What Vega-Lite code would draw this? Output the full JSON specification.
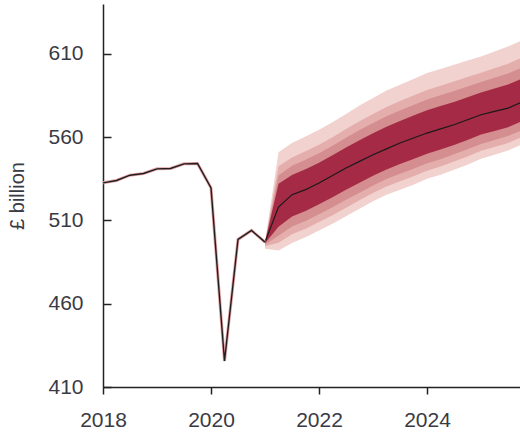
{
  "$schema": "https://vega.github.io/schema/vega-lite/v6.json",
  "width": 417,
  "height": 383,
  "autosize": "none",
  "padding": {"left": 103, "top": 4, "right": 0, "bottom": 45},
  "config": {
    "view": {"stroke": null},
    "font": "Liberation Sans",
    "axis": {
      "grid": false,
      "domainColor": "#222222",
      "domainWidth": 1.5,
      "tickColor": "#222222",
      "tickWidth": 1.5,
      "labelFont": "Liberation Sans",
      "labelFontSize": 21,
      "labelColor": "#3a3a44",
      "labelFlush": false,
      "titleFont": "Liberation Sans",
      "titleFontSize": 20,
      "titleFontWeight": "normal",
      "titleColor": "#3a3a44"
    }
  },
  "datasets": {
    "hist": [
      {"t": 2018.0, "v": 532.6},
      {"t": 2018.25, "v": 534.0},
      {"t": 2018.5, "v": 537.2},
      {"t": 2018.75, "v": 538.2},
      {"t": 2019.0, "v": 541.0},
      {"t": 2019.25, "v": 541.2},
      {"t": 2019.5, "v": 544.0},
      {"t": 2019.75, "v": 544.2},
      {"t": 2020.0, "v": 529.6},
      {"t": 2020.25, "v": 425.6},
      {"t": 2020.5, "v": 498.6},
      {"t": 2020.75, "v": 504.0},
      {"t": 2021.0, "v": 497.0}
    ],
    "fan": [
      {"t": 2021.0, "mid": 497.0, "l90": 493.0, "l70": 494.5, "l50": 495.5, "l30": 496.3, "u30": 497.0, "u50": 497.0, "u70": 497.0, "u90": 497.0},
      {"t": 2021.25, "mid": 518.0, "l90": 492.0, "l70": 496.7, "l50": 500.8, "l30": 506.3, "u30": 532.0, "u50": 537.0, "u70": 542.5, "u90": 551.0},
      {"t": 2021.5, "mid": 525.5, "l90": 496.5, "l70": 501.7, "l50": 506.4, "l30": 512.4, "u30": 537.3, "u50": 542.9, "u70": 547.8, "u90": 556.5},
      {"t": 2021.75, "mid": 528.5, "l90": 500.0, "l70": 505.1, "l50": 509.7, "l30": 515.7, "u30": 540.7, "u50": 546.4, "u70": 551.5, "u90": 560.5},
      {"t": 2022.0, "mid": 532.5, "l90": 504.0, "l70": 509.1, "l50": 513.7, "l30": 519.7, "u30": 544.7, "u50": 550.4, "u70": 555.5, "u90": 564.5},
      {"t": 2022.25, "mid": 537.0, "l90": 508.0, "l70": 513.2, "l50": 517.9, "l30": 524.0, "u30": 549.2, "u50": 554.9, "u70": 560.0, "u90": 569.0},
      {"t": 2022.5, "mid": 541.5, "l90": 512.5, "l70": 517.7, "l50": 522.4, "l30": 528.5, "u30": 553.9, "u50": 559.7, "u70": 564.9, "u90": 574.0},
      {"t": 2022.75, "mid": 545.5, "l90": 517.0, "l70": 522.1, "l50": 526.7, "l30": 532.7, "u30": 558.2, "u50": 564.3, "u70": 569.6, "u90": 579.0},
      {"t": 2023.0, "mid": 549.5, "l90": 521.5, "l70": 526.5, "l50": 531.0, "l30": 536.9, "u30": 562.4, "u50": 568.5, "u70": 574.0, "u90": 583.5},
      {"t": 2023.25, "mid": 553.0, "l90": 525.5, "l70": 530.4, "l50": 534.9, "l30": 540.6, "u30": 566.3, "u50": 572.6, "u70": 578.2, "u90": 588.0},
      {"t": 2023.5, "mid": 556.5, "l90": 528.5, "l70": 533.5, "l50": 538.0, "l30": 543.9, "u30": 569.8, "u50": 576.1, "u70": 581.7, "u90": 591.5},
      {"t": 2023.75, "mid": 559.5, "l90": 531.5, "l70": 536.5, "l50": 541.0, "l30": 546.9, "u30": 573.0, "u50": 579.4, "u70": 585.1, "u90": 595.0},
      {"t": 2024.0, "mid": 562.5, "l90": 535.0, "l70": 539.9, "l50": 544.3, "l30": 550.1, "u30": 576.2, "u50": 582.7, "u70": 588.4, "u90": 598.5},
      {"t": 2024.25, "mid": 565.0, "l90": 537.5, "l70": 542.4, "l50": 546.8, "l30": 552.6, "u30": 578.7, "u50": 585.2, "u70": 590.9, "u90": 601.0},
      {"t": 2024.5, "mid": 567.5, "l90": 540.5, "l70": 545.4, "l50": 549.7, "l30": 555.3, "u30": 581.2, "u50": 587.7, "u70": 593.4, "u90": 603.5},
      {"t": 2024.75, "mid": 570.5, "l90": 543.5, "l70": 548.4, "l50": 552.7, "l30": 558.3, "u30": 584.0, "u50": 590.4, "u70": 596.1, "u90": 606.0},
      {"t": 2025.0, "mid": 573.5, "l90": 547.0, "l70": 551.8, "l50": 556.0, "l30": 561.6, "u30": 586.8, "u50": 593.1, "u70": 598.7, "u90": 608.5},
      {"t": 2025.25, "mid": 575.5, "l90": 549.5, "l70": 554.2, "l50": 558.3, "l30": 563.8, "u30": 589.2, "u50": 595.7, "u70": 601.4, "u90": 611.5},
      {"t": 2025.5, "mid": 577.5, "l90": 552.0, "l70": 556.6, "l50": 560.7, "l30": 566.0, "u30": 591.6, "u50": 598.2, "u70": 604.1, "u90": 614.5},
      {"t": 2025.75, "mid": 581.0, "l90": 555.5, "l70": 560.1, "l50": 564.2, "l30": 569.5, "u30": 595.1, "u50": 601.7, "u70": 607.6, "u90": 618.0}
    ]
  },
  "layer": [
    {
      "data": {"name": "fan"},
      "mark": {"type": "area", "color": "#f1d2cf", "clip": true},
      "encoding": {
        "x": {"field": "t", "type": "quantitative",
              "scale": {"domain": [2018, 2025.722], "nice": false, "zero": false},
              "axis": {"values": [2018, 2020, 2022, 2024], "format": "d", "title": null,
                       "tickSize": 7, "labelPadding": 15}},
        "y": {"field": "l90", "type": "quantitative",
              "scale": {"domain": [410, 640], "nice": false, "zero": false},
              "axis": {"values": [410, 460, 510, 560, 610], "title": "£ billion",
                       "tickSize": -8, "labelPadding": 28, "titlePadding": 20}},
        "y2": {"field": "u90"}
      }
    },
    {
      "data": {"name": "fan"},
      "mark": {"type": "area", "color": "#e4aeac", "clip": true},
      "encoding": {
        "x": {"field": "t", "type": "quantitative", "title": null},
        "y": {"field": "l70", "type": "quantitative", "title": "£ billion"},
        "y2": {"field": "u70"}
      }
    },
    {
      "data": {"name": "fan"},
      "mark": {"type": "area", "color": "#d48e8f", "clip": true},
      "encoding": {
        "x": {"field": "t", "type": "quantitative", "title": null},
        "y": {"field": "l50", "type": "quantitative", "title": "£ billion"},
        "y2": {"field": "u50"}
      }
    },
    {
      "data": {"name": "fan"},
      "mark": {"type": "area", "color": "#a52a45", "clip": true},
      "encoding": {
        "x": {"field": "t", "type": "quantitative", "title": null},
        "y": {"field": "l30", "type": "quantitative", "title": "£ billion"},
        "y2": {"field": "u30"}
      }
    },
    {
      "data": {"name": "fan"},
      "mark": {"type": "line", "color": "#1a1a1a", "strokeWidth": 1.2, "clip": true},
      "encoding": {
        "x": {"field": "t", "type": "quantitative", "title": null},
        "y": {"field": "mid", "type": "quantitative", "title": "£ billion"}
      }
    },
    {
      "data": {"name": "hist"},
      "mark": {"type": "line", "color": "#e3a3a6", "strokeWidth": 3, "clip": true},
      "encoding": {
        "x": {"field": "t", "type": "quantitative", "title": null},
        "y": {"field": "v", "type": "quantitative", "title": "£ billion"}
      }
    },
    {
      "data": {"name": "hist"},
      "mark": {"type": "line", "color": "#1e1e1e", "strokeWidth": 1.4, "clip": true},
      "encoding": {
        "x": {"field": "t", "type": "quantitative", "title": null},
        "y": {"field": "v", "type": "quantitative", "title": "£ billion"}
      }
    }
  ]
}
